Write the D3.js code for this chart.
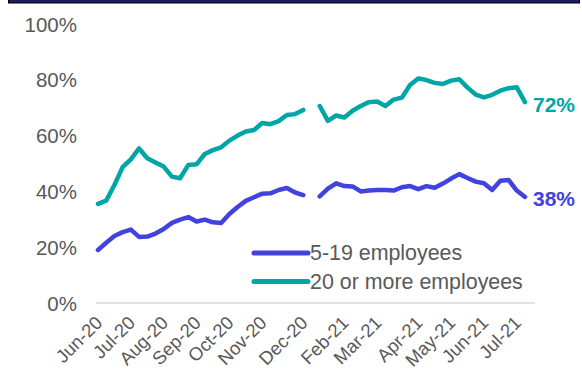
<!DOCTYPE html>
<html>
<head>
<meta charset="utf-8">
<script src="https://cdn.jsdelivr.net/npm/d3@7"></script>
<style>
  html, body { margin: 0; padding: 0; background: #fff; }
  svg { display: block; font-family: Arial, "Liberation Sans", sans-serif; }
</style>
</head>
<body>
<svg id="chart" width="582" height="374"></svg>
<script>
// Weekly share of businesses, June 2020 – July 2021 (null = no survey that week)
const smallFirms = [
  19.0, 21.6, 24.0, 25.4, 26.3, 23.7, 23.8, 24.9, 26.5, 28.7,
  29.9, 30.8, 29.2, 29.9, 28.9, 28.7, 31.9, 34.4, 36.6, 37.9,
  39.2, 39.3, 40.5, 41.2, 39.6, 38.7, null, 38.2, 41.0, 42.9,
  41.9, 41.8, 40.0, 40.3, 40.5, 40.5, 40.3, 41.5, 41.9, 40.8,
  41.9, 41.3, 42.8, 44.6, 46.2, 44.8, 43.5, 42.9, 40.5, 43.8,
  44.1, 40.3, 38.0
];
const largerFirms = [
  35.5, 36.7, 42.3, 48.7, 51.5, 55.4, 51.9, 50.4, 48.9, 45.3,
  44.7, 49.5, 49.7, 53.4, 54.8, 55.8, 58.2, 60.0, 61.5, 62.0,
  64.5, 64.1, 65.2, 67.4, 67.7, 69.2, null, 70.6, 65.3, 67.2,
  66.5, 68.9, 70.6, 72.0, 72.2, 70.6, 72.9, 73.6, 78.1, 80.5,
  79.9, 78.9, 78.5, 79.7, 80.2, 77.2, 74.7, 73.7, 74.6, 76.1,
  77.0, 77.3, 72.0
];
const seriesNames = ["5-19 employees", "20 or more employees"];
const seriesColors = ["#4242DE", "#00A6A6"];
const monthLabels = ["Jun-20", "Jul-20", "Aug-20", "Sep-20", "Oct-20", "Nov-20", "Dec-20",
                     "Feb-21", "Mar-21", "Apr-21", "May-21", "Jun-21", "Jul-21"];
const monthLabelWeek = [0, 4, 8, 12, 16, 20, 25, 30, 34, 39, 43, 47, 51];
const yTicks = [0, 20, 40, 60, 80, 100];

const svg = d3.select("#chart");
const grey = "#595959";

// header rule
svg.append("rect")
  .attr("x", 8.5).attr("y", -1).attr("width", 571).attr("height", 4)
  .attr("fill", "#1C1C5E").attr("stroke", "#000").attr("stroke-width", 1);

const x = d3.scaleLinear().domain([0, smallFirms.length - 1]).range([98, 525]);
const y = d3.scaleLinear().domain([0, 100]).range([303, 24]);

// baseline at 0%
svg.append("line")
  .attr("x1", 96).attr("x2", 535)
  .attr("y1", y(0)).attr("y2", y(0))
  .attr("stroke", "#D9D9D9").attr("stroke-width", 1.5);

// y axis labels
const yAxis = svg.append("g")
  .attr("transform", "translate(77,0)")
  .call(d3.axisLeft(y).tickValues(yTicks).tickSize(0).tickPadding(0).tickFormat(d => d + "%"));
yAxis.select(".domain").remove();
yAxis.selectAll("text")
  .attr("fill", grey).attr("font-size", 20.5)
  .attr("font-family", "Arial, 'Liberation Sans', sans-serif")
  .attr("x", 0).attr("dy", "0.35em");

// x axis labels, rotated
const xAxis = svg.append("g")
  .attr("transform", "translate(5,324)")
  .call(d3.axisBottom(x).tickValues(monthLabelWeek).tickSize(0)
        .tickFormat((d, i) => monthLabels[i]));
xAxis.select(".domain").remove();
xAxis.selectAll("text")
  .attr("fill", grey).attr("font-size", 18.5)
  .attr("font-family", "Arial, 'Liberation Sans', sans-serif")
  .attr("text-anchor", "end")
  .attr("y", 0).attr("dy", 0)
  .attr("transform", "rotate(-45)");

// lines
const line = d3.line()
  .defined(d => d != null)
  .x((d, i) => x(i))
  .y(d => y(d));

[smallFirms, largerFirms].forEach((vals, k) => {
  svg.append("path")
    .datum(vals)
    .attr("fill", "none")
    .attr("stroke", seriesColors[k])
    .attr("stroke-width", 4.5)
    .attr("stroke-linecap", "round")
    .attr("stroke-linejoin", "round")
    .attr("d", line);
});

// end-of-line value labels
[smallFirms, largerFirms].forEach((vals, k) => {
  const last = vals.length - 1;
  svg.append("text")
    .attr("x", x(last) + 8)
    .attr("y", y(vals[last]) + (k === 0 ? 2 : 3))
    .attr("dy", "0.35em")
    .attr("fill", seriesColors[k])
    .attr("font-size", 21)
    .attr("font-weight", "bold")
    .text(Math.round(vals[last]) + "%");
});

// legend
const legend = svg.append("g");
seriesNames.forEach((name, k) => {
  const ly = 253 + k * 28.5;
  legend.append("line")
    .attr("x1", 254).attr("x2", 308)
    .attr("y1", ly).attr("y2", ly)
    .attr("stroke", seriesColors[k]).attr("stroke-width", 5)
    .attr("stroke-linecap", "round");
  legend.append("text")
    .attr("x", 310).attr("y", ly).attr("dy", "0.35em")
    .attr("fill", grey).attr("font-size", 21.4)
    .text(name);
});
</script>
</body>
</html>
